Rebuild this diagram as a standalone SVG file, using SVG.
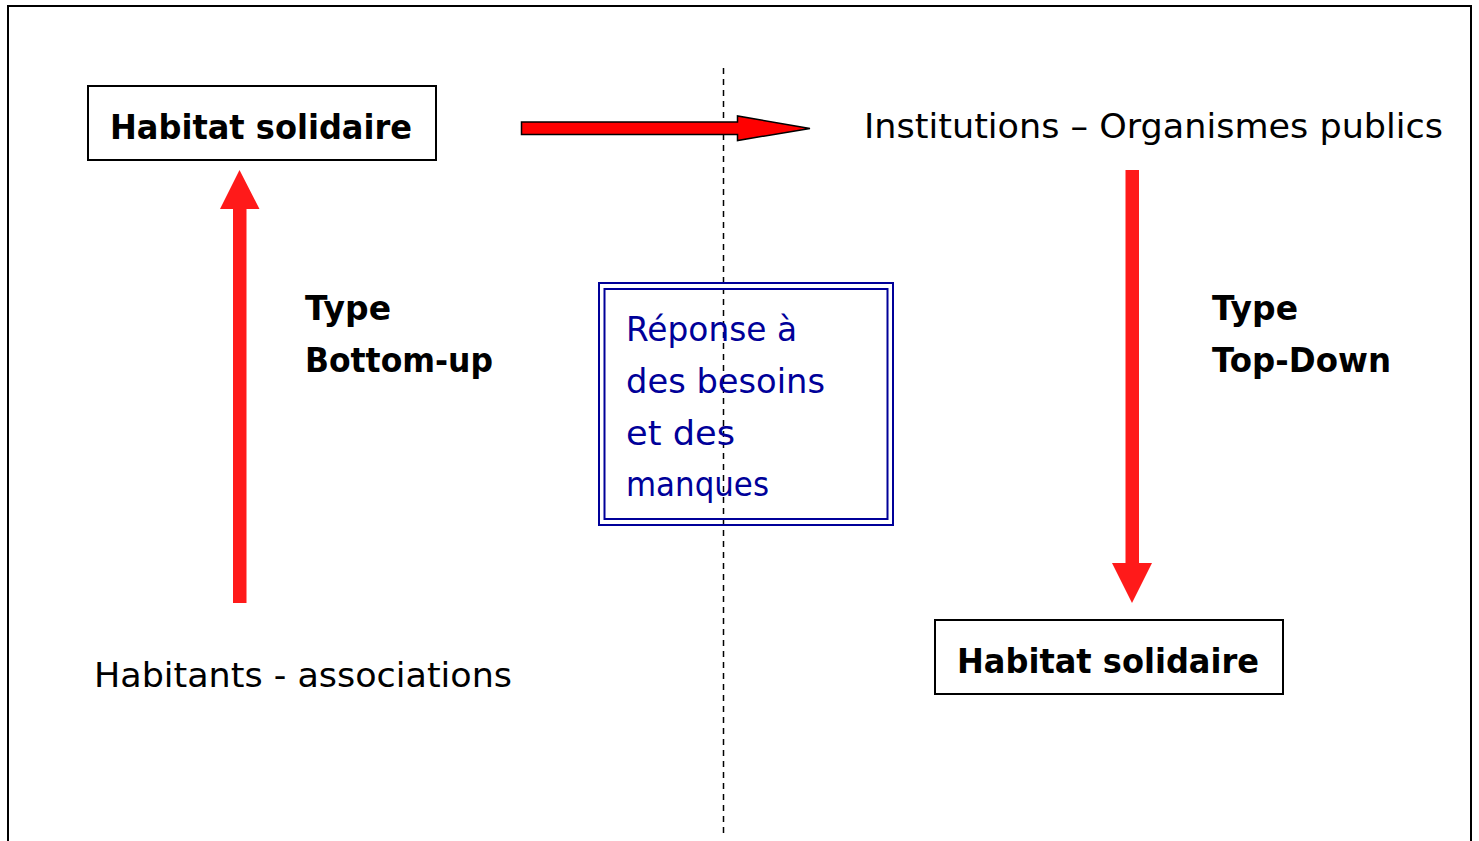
<svg xmlns="http://www.w3.org/2000/svg" width="1479" height="841" viewBox="0 0 1479 841">
<style>
.t{font-family:"DejaVu Sans","Liberation Sans",sans-serif;font-size:33px;fill:#000}
.b{font-weight:bold}
.blue{fill:#000099}
.box{fill:#fff;stroke:#000;stroke-width:2}
</style>
<rect x="0" y="0" width="1479" height="841" fill="#fff"/>
<path d="M8 841 V6 H1471 V841" fill="none" stroke="#000" stroke-width="2"/>
<line x1="723.5" y1="68" x2="723.5" y2="835" stroke="#000" stroke-width="1.5" stroke-dasharray="6,5"/>
<g id="connectors">
  <path d="M521.5 122 H737.5 V116 L810 128.5 L737.5 140.5 V134.5 H521.5 Z" fill="#ff0000" stroke="#000" stroke-width="1.5"/>
  <path d="M233 603 V209 H220 L239.5 170 L259.5 209 H246.5 V603 Z" fill="#ff1a1a"/>
  <path d="M1125.5 170 V563 H1112 L1132 603 L1152 563 H1139 V170 Z" fill="#ff1a1a"/>
</g>
<g id="habitat-solidaire-1">
  <rect class="box" x="88" y="86" width="348" height="74"/>
  <text class="t b" x="110" y="139" textLength="302" lengthAdjust="spacingAndGlyphs">Habitat solidaire</text>
</g>
<g id="institutions">
  <text class="t" x="864" y="138" textLength="579" lengthAdjust="spacingAndGlyphs">Institutions – Organismes publics</text>
</g>
<g id="type-bottom-up">
  <text class="t b" x="305" y="320" textLength="86" lengthAdjust="spacingAndGlyphs">Type</text>
  <text class="t b" x="305" y="372" textLength="188" lengthAdjust="spacingAndGlyphs">Bottom-up</text>
</g>
<g id="reponse">
  <rect x="599" y="283" width="294" height="242" fill="none" stroke="#000099" stroke-width="2"/>
  <rect x="604.5" y="289" width="283" height="230" fill="none" stroke="#000099" stroke-width="2"/>
  <text class="t blue" x="626" y="341" textLength="171" lengthAdjust="spacingAndGlyphs">Réponse à</text>
  <text class="t blue" x="626" y="393" textLength="199" lengthAdjust="spacingAndGlyphs">des besoins</text>
  <text class="t blue" x="626" y="445" textLength="109" lengthAdjust="spacingAndGlyphs">et des</text>
  <text class="t blue" x="626" y="496" textLength="143" lengthAdjust="spacingAndGlyphs">manques</text>
</g>
<g id="type-top-down">
  <text class="t b" x="1212" y="320" textLength="86" lengthAdjust="spacingAndGlyphs">Type</text>
  <text class="t b" x="1212" y="372" textLength="179" lengthAdjust="spacingAndGlyphs">Top-Down</text>
</g>
<g id="habitants">
  <text class="t" x="94" y="687" textLength="418" lengthAdjust="spacingAndGlyphs">Habitants - associations</text>
</g>
<g id="habitat-solidaire-2">
  <rect class="box" x="935" y="620" width="348" height="74"/>
  <text class="t b" x="957" y="673" textLength="302" lengthAdjust="spacingAndGlyphs">Habitat solidaire</text>
</g>
</svg>
